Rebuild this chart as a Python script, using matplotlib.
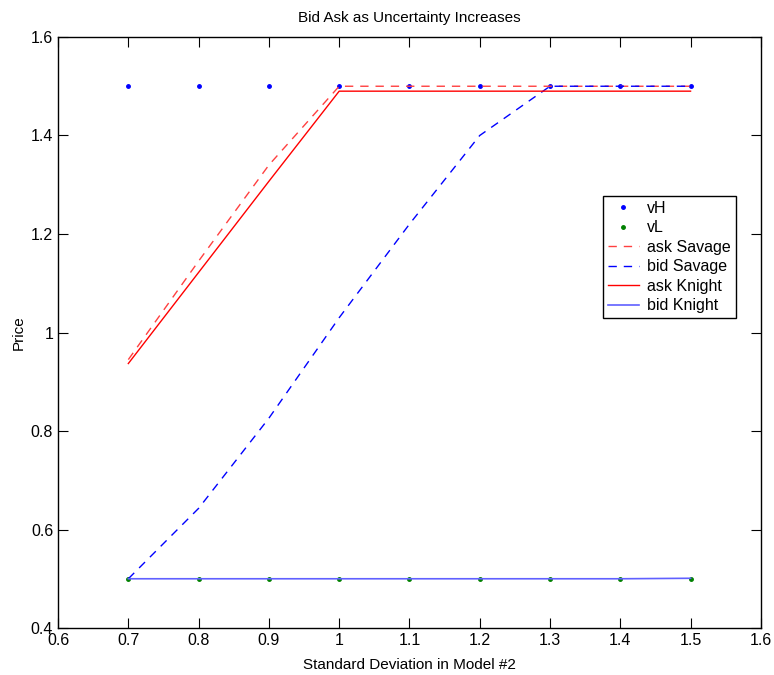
import numpy as np
import matplotlib.pyplot as plt

plt.rcParams['font.family'] = ['Liberation Sans', 'DejaVu Sans']

sd = [0.7, 0.8, 0.9, 1.0, 1.1, 1.2, 1.3, 1.4, 1.5]
vH = [1.5, 1.5, 1.5, 1.5, 1.5, 1.5, 1.5, 1.5, 1.5]
vL = [0.5, 0.5, 0.5, 0.5, 0.5, 0.5, 0.5, 0.5, 0.5]
ask_savage = [0.945, 1.145, 1.34, 1.5, 1.5, 1.5, 1.5, 1.5, 1.5]
bid_savage = [0.5, 0.643, 0.826, 1.03, 1.22, 1.40, 1.5, 1.5, 1.5]
ask_knight = [0.937, 1.122, 1.307, 1.49, 1.49, 1.49, 1.49, 1.49, 1.49]
bid_knight = [0.5, 0.5, 0.5, 0.5, 0.5, 0.5, 0.5, 0.5, 0.501]

fig = plt.figure(figsize=(7.74, 6.75), dpi=100)
ax = fig.add_axes([0.075, 0.0696, 0.908, 0.8756])

ax.plot(sd, vH, '.', color='b', markersize=5, label='vH')
ax.plot(sd, vL, '.', color='g', markersize=5, label='vL')
ax.plot(sd, ask_savage, '--', color='#ff4040', lw=1, dashes=(6, 5), label='ask Savage')
ax.plot(sd, bid_savage, '--', color='b', lw=1, dashes=(6, 5), label='bid Savage')
ax.plot(sd, ask_knight, '-', color='r', lw=1, label='ask Knight')
ax.plot(sd, bid_knight, '-', color='#6060ff', lw=1.2, label='bid Knight')

ax.set_xlim(0.6, 1.6)
ax.set_ylim(0.4, 1.6)
ax.set_xticks(np.arange(0.6, 1.61, 0.1))
ax.set_xticklabels(['0.6', '0.7', '0.8', '0.9', '1', '1.1', '1.2', '1.3', '1.4', '1.5', '1.6'])
ax.set_yticks(np.arange(0.4, 1.61, 0.2))
ax.set_yticklabels(['0.4', '0.6', '0.8', '1', '1.2', '1.4', '1.6'])
ax.tick_params(direction='in', top=True, right=True, length=7, labelsize=11.5)
for s in ax.spines.values():
    s.set_linewidth(1)

ax.set_title('Bid Ask as Uncertainty Increases', fontsize=11, pad=11)
ax.set_xlabel('Standard Deviation in Model #2', fontsize=11, labelpad=7)
ax.set_ylabel('Price', fontsize=11)

leg = ax.legend(loc='upper left', bbox_to_anchor=(0.775, 0.731), fontsize=11.5,
                frameon=True, fancybox=False, framealpha=1, edgecolor='black',
                handlelength=2.0, borderpad=0.3, labelspacing=0.28, handletextpad=0.5,
                borderaxespad=0)
leg.get_frame().set_linewidth(1)

fig.savefig('out.png', dpi=100)
